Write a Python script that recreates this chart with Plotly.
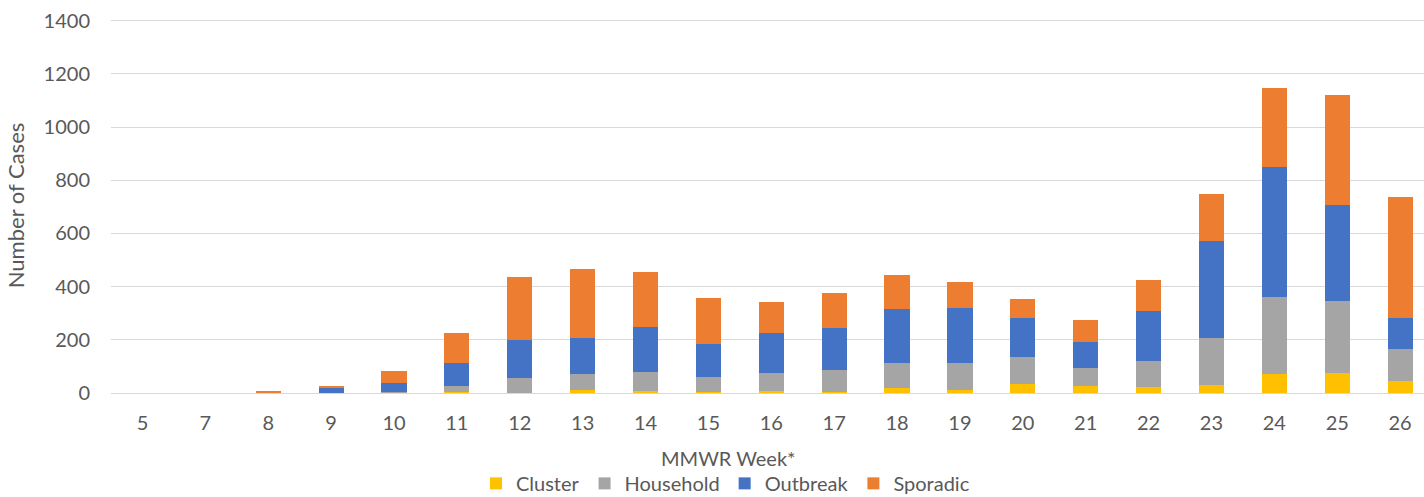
import plotly.graph_objects as go

weeks = ["5", "7", "8", "9", "10", "11", "12", "13", "14", "15", "16", "17",
         "18", "19", "20", "21", "22", "23", "24", "25", "26"]
cluster   = [0, 0, 0, 0, 0, 2, 0, 13, 8, 2, 9, 2, 19, 13, 35, 28, 23, 30, 72, 77, 45]
household = [0, 0, 0, 1, 3, 24, 58, 57, 72, 59, 67, 84, 94, 100, 100, 65, 98, 178, 288, 269, 121]
outbreak  = [0, 0, 1, 17, 33, 87, 142, 136, 168, 122, 149, 158, 204, 208, 148, 98, 188, 362, 488, 361, 117]
sporadic  = [0, 0, 8, 9, 45, 111, 237, 259, 207, 175, 119, 133, 125, 97, 72, 82, 115, 178, 300, 415, 454]
y_ticks = [0, 200, 400, 600, 800, 1000, 1200, 1400]

series = [
    ("Cluster", cluster, "#FFC000"),
    ("Household", household, "#A5A5A5"),
    ("Outbreak", outbreak, "#4472C4"),
    ("Sporadic", sporadic, "#ED7D31"),
]

FONT = "Lato, 'Open Sans', sans-serif"
fig = go.Figure()
for name, vals, color in series:
    fig.add_trace(go.Bar(x=weeks, y=vals, name=name, marker_color=color,
                         marker_line_width=0))

fig.update_layout(
    barmode="stack",
    bargap=0.6,
    width=1424, height=497,
    margin=dict(l=111, r=0, t=18, b=104, autoexpand=False),
    plot_bgcolor="white", paper_bgcolor="white",
    font=dict(family=FONT, size=20, color="#595959"),
    showlegend=True,
    legend=dict(orientation="h", x=0.468, xanchor="center", y=-0.241, yanchor="middle",
                font=dict(size=20, color="#595959"), traceorder="normal",
                itemwidth=30, tracegroupgap=0),
    xaxis=dict(type="category", range=[-0.5, 20.38], showgrid=False, showline=False,
               automargin=False,
               ticks="", ticklabelstandoff=16, tickfont=dict(size=20, color="#595959")),
    yaxis=dict(range=[0, 1410], tickvals=y_ticks,
               showgrid=True, gridcolor="#D9D9D9", gridwidth=1,
               zeroline=True, zerolinecolor="#D9D9D9", zerolinewidth=1, showline=False,
               automargin=False,
               ticks="", ticklabelstandoff=20, tickfont=dict(size=20, color="#595959"),
               title=dict(text="Number of Cases", font=dict(size=22, color="#595959"), standoff=12)),
    annotations=[dict(text="MMWR Week*", xref="paper", yref="paper", x=0.47, y=-0.173,
                      xanchor="center", yanchor="middle", showarrow=False,
                      font=dict(size=20, color="#595959"))],
)

fig.write_html("out.html", config={"displayModeBar": False},
               post_script="document.body.style.margin='0';")
